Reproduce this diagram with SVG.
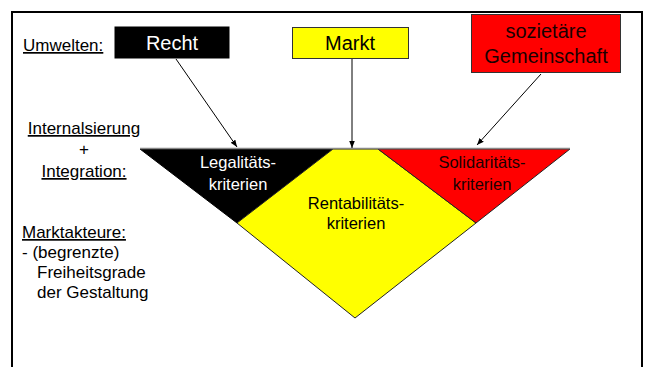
<svg xmlns="http://www.w3.org/2000/svg" width="645" height="367" viewBox="0 0 645 367">
<defs>
<marker id="ah" viewBox="0 0 10 10" refX="10" refY="5" markerWidth="7" markerHeight="7" orient="auto" markerUnits="userSpaceOnUse">
<path d="M0,1 L10,5 L0,9 z" fill="#000"/>
</marker>
</defs>
<style>
text{font-family:"Liberation Sans",Arial,sans-serif;}
.lbl{font-size:17px;fill:#000;}
.u{text-decoration:underline;}
.box{font-size:20px;text-anchor:middle;}
.tri{font-size:16.5px;text-anchor:middle;}
.conn{stroke:#000;stroke-width:1;fill:none;marker-end:url(#ah);}
</style>
<rect width="645" height="367" fill="#fff"/>
<path d="M12,380 V12 H642 V380" fill="none" stroke="#000" stroke-width="2"/>

<g id="labels">
<text class="lbl u" x="23" y="51">Umwelten:</text>
<text class="lbl u" x="84" y="134" text-anchor="middle">Internalsierung</text>
<text class="lbl" x="84" y="155" text-anchor="middle">+</text>
<text class="lbl u" x="84" y="177" text-anchor="middle">Integration:</text>
<text class="lbl u" x="22" y="238">Marktakteure:</text>
<text class="lbl" x="22" y="258">- (begrenzte)</text>
<text class="lbl" x="37" y="278">Freiheitsgrade</text>
<text class="lbl" x="37" y="298">der Gestaltung</text>
</g>

<g id="recht">
<rect x="115" y="27" width="114" height="31" fill="#000" stroke="#000"/>
<text class="box" x="172" y="50" fill="#fff">Recht</text>
</g>
<g id="markt">
<rect x="292.5" y="27.5" width="116" height="31" fill="#ffff00" stroke="#333" stroke-width="1"/>
<text class="box" x="350" y="50" fill="#000">Markt</text>
</g>
<g id="gemeinschaft">
<rect x="471.5" y="14.5" width="149" height="58" fill="#ff0000" stroke="#333" stroke-width="1"/>
<text class="box" x="546" y="38" fill="#1a0000">sozietäre</text>
<text class="box" x="546" y="63" fill="#1a0000">Gemeinschaft</text>
</g>

<g id="legalitaet">
<polygon points="140,149 333,149 237,223" fill="#000" stroke="#000" stroke-width="1"/>
<text class="tri" x="238" y="168" fill="#fff">Legalitäts-</text>
<text class="tri" x="238" y="190" fill="#fff">kriterien</text>
</g>
<g id="rentabilitaet">
<polygon points="333,149 378,149 476,223 355,318 237,223" fill="#ffff00" stroke="#222" stroke-width="1"/>
<text class="tri" x="356" y="209" fill="#000">Rentabilitäts-</text>
<text class="tri" x="356" y="229" fill="#000">kriterien</text>
</g>
<g id="solidaritaet">
<polygon points="378,149 570,149 476,223" fill="#ff0000" stroke="#222" stroke-width="1"/>
<text class="tri" x="482" y="168" fill="#1a0000">Solidaritäts-</text>
<text class="tri" x="482" y="190" fill="#1a0000">kriterien</text>
</g>
<line x1="140" y1="148.5" x2="570" y2="148.5" stroke="#888" stroke-width="1.5"/>

<g id="connectors">
<line class="conn" x1="176" y1="59" x2="237" y2="147"/>
<line class="conn" x1="352" y1="59" x2="352" y2="148"/>
<line class="conn" x1="541" y1="74" x2="477" y2="145"/>
</g>
</svg>
